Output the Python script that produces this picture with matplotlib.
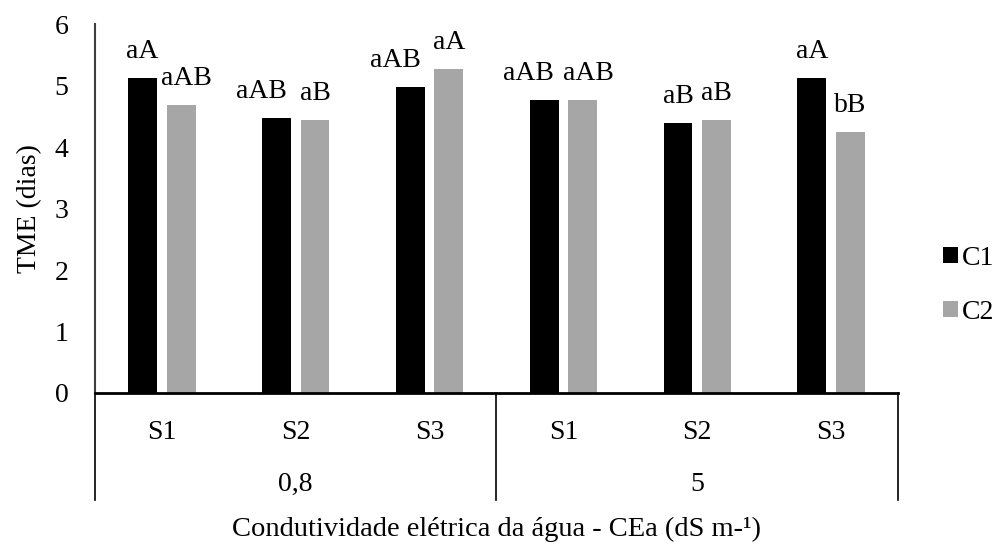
import matplotlib
matplotlib.use("Agg")
import matplotlib.pyplot as plt
import numpy as np
from matplotlib.lines import Line2D

plt.rcParams['font.family'] = ['Liberation Serif', 'DejaVu Serif']

groups = ["0,8", "5"]
subcats = ["S1", "S2", "S3", "S1", "S2", "S3"]
c1_values = [5.13, 4.48, 4.98, 4.77, 4.39, 5.13]
c2_values = [4.68, 4.44, 5.27, 4.77, 4.44, 4.25]
c1_labels = ["aA", "aAB", "aAB", "aAB", "aB", "aA"]
c2_labels = ["aAB", "aB", "aA", "aAB", "aB", "bB"]
series_names = ["C1", "C2"]

FS = 20
fig = plt.figure(figsize=(10.04, 5.44), dpi=100)
ax = fig.add_axes([0.0946, 0.2776, 0.7998, 0.678])

x = np.arange(len(subcats))
w = 0.215
off = 0.144
b1 = ax.bar(x - off, c1_values, w, color="#000000", label=series_names[0])
b2 = ax.bar(x + off, c2_values, w, color="#a6a6a6", label=series_names[1])

# long labels are nudged outward from the pair so they do not collide
for bars, labs, nudge in ((b1, c1_labels, -11), (b2, c2_labels, 4)):
    for r, lab in zip(bars, labs):
        dx = nudge if len(lab) > 2 else 0
        ax.annotate(lab, (r.get_x() + r.get_width() / 2, r.get_height()),
                    xytext=(dx, 19), textcoords="offset points",
                    ha="center", va="center", fontsize=FS)

ax.set_xlim(-0.5, 5.5)
ax.set_ylim(0, 6)
ax.set_yticks(range(0, 7))
ax.tick_params(axis="y", length=0, pad=19, labelsize=FS)
ax.set_xticks([])
for s in ("top", "right"):
    ax.spines[s].set_visible(False)
ax.spines["left"].set_color("#404040")
ax.spines["left"].set_linewidth(1.5)
ax.spines["bottom"].set_color("#000000")
ax.spines["bottom"].set_linewidth(2.0)
ax.set_ylabel("TME (dias)", fontsize=FS)
ax.yaxis.set_label_coords(-0.066, 0.5)

trans = ax.get_xaxis_transform()
for xi, s in zip(x, subcats):
    ax.text(xi, -0.106, s, transform=trans, ha="center", va="center", fontsize=FS)
for gi, g in enumerate(groups):
    ax.text(gi * 3 + 1, -0.248, g, transform=trans, ha="center", va="center", fontsize=FS)
for xb in (-0.5, 2.5, 5.5):
    ax.add_line(Line2D([xb, xb], [0, -0.29], transform=trans, color="black",
                       linewidth=1.2, clip_on=False))
ax.text(2.5, -0.388, "Condutividade elétrica da água - CEa (dS m-¹)", transform=trans,
        ha="center", va="baseline", fontsize=20.5)

leg = ax.legend(loc="center left", bbox_to_anchor=(1.042, 0.292), frameon=False,
                fontsize=FS, handlelength=0.54, handleheight=0.54, handletextpad=0.15,
                labelspacing=1.05, borderaxespad=0)

fig.savefig("out.png", dpi=100)
